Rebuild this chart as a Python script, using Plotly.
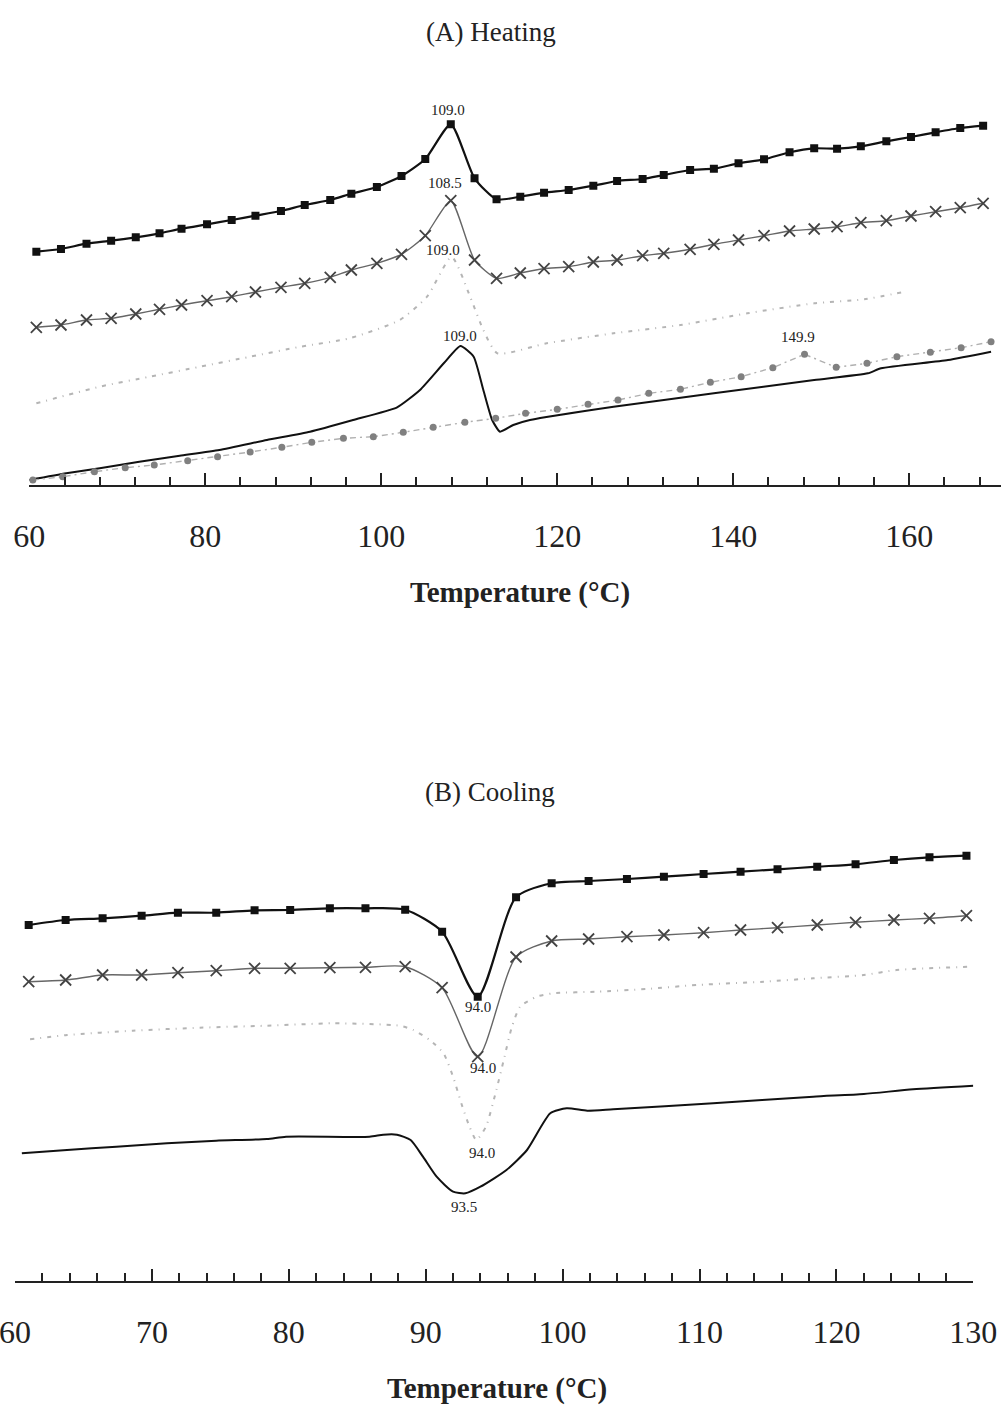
import plotly.graph_objects as go

# ---------------- (A) Heating ----------------
heat_T_marked = [60.8, 63.6, 66.5, 69.3, 72.1, 74.8, 77.3, 80.2, 83.0, 85.7, 88.6, 91.3, 94.2, 96.6,
                 99.5, 102.3, 105.0, 107.9, 110.6, 113.1, 115.8, 118.5, 121.3, 124.1, 126.8, 129.7,
                 132.1, 135.1, 137.8, 140.6, 143.5, 146.4, 149.2, 151.8, 154.5, 157.4, 160.2, 163.0,
                 165.8, 168.4]
heat_sq = [231.3, 234, 239.3, 242.3, 245.7, 249.7, 254.3, 258.7, 263, 267.3, 272, 278, 283, 289.3,
           296, 307, 324, 358.7, 304.7, 283.7, 286.3, 290.3, 293, 297.3, 302, 304, 308, 313, 314.3,
           319.7, 323.7, 330.7, 334.7, 334.3, 336.7, 341.7, 346, 350.7, 355, 357.3]
heat_x = [155.7, 158, 163, 164.7, 169, 173.7, 178, 182.3, 186.3, 191, 195.7, 199.7, 205.7, 213,
          219.7, 228.7, 247.3, 282.3, 223, 204.7, 210, 214.3, 216.3, 221, 223, 227.3, 229.7, 233.7,
          238.7, 243, 247.3, 252, 254, 256.3, 260.3, 262.3, 267, 271.3, 275.3, 279.7]

heat_dot_T = [60.8, 68.0, 73.7, 79.4, 85.1, 90.8, 96.4, 102.1, 105.2, 108.0, 110.1, 111.6, 113.2,
              118.8, 126.4, 134.0, 141.6, 149.2, 154.9, 159.5]
heat_dot = [79.7, 96.3, 106.3, 116.3, 126.3, 136.3, 144.7, 163, 186.3, 226, 186.3, 153, 129.7,
            139.7, 149.7, 158, 169.7, 179.7, 183.7, 191.3]

heat_solid_T = [60.0, 64.2, 68.0, 72.5, 77.1, 81.6, 87.0, 91.9, 96.8, 101.8, 104.4, 107.1, 109.0,
                110.5, 111.6, 112.6, 113.5, 115.0, 116.9, 126.4, 137.8, 149.2, 155.3, 156.8, 164.4,
                169.3]
heat_solid = [3, 9.7, 14.7, 21.3, 27.3, 33, 43, 51.3, 63, 75.7, 93, 119.7, 137, 126.3, 93, 63, 51.3,
              58, 63, 76.3, 89.7, 103, 109.7, 114.7, 123, 131.3]

heat_circ_T = [60.4, 63.8, 67.4, 70.9, 74.2, 78.0, 81.4, 85.1, 88.7, 92.1, 95.7, 99.1, 102.5, 105.9,
               109.5, 113.0, 116.4, 120.0, 123.5, 126.9, 130.4, 134.0, 137.4, 140.9, 144.5, 148.1,
               151.7, 155.2, 158.6, 162.4, 165.9, 169.3]
heat_circ = [3, 6.3, 11.3, 15.3, 18, 22.3, 26.3, 31, 35.7, 40.7, 44.7, 46.3, 50.7, 55.7, 60.7, 64.7,
             69.7, 73.7, 78.7, 83, 89.7, 93.7, 100.7, 106.3, 115.3, 128.7, 115.7, 119.7, 126.3,
             130.7, 135.3, 141.3]

heat_labels = ["109.0", "108.5", "109.0", "109.0", "149.9"]
heat_label_T = [107.6, 107.2, 107.0, 109.0, 147.4]
heat_label_y = [373, 300, 233, 147, 146]

# ---------------- (B) Cooling ----------------
cool_T_marked = [61.0, 63.7, 66.4, 69.25, 71.9, 74.7, 77.5, 80.1, 83.0, 85.6, 88.5, 91.2, 93.8,
                 96.6, 99.2, 101.9, 104.7, 107.4, 110.3, 113.0, 115.7, 118.6, 121.4, 124.2, 126.8,
                 129.5]
cool_sq = [356, 361, 362.7, 365.3, 368.3, 368.3, 370.7, 371, 372.7, 372.7, 371.3, 349.3, 284.3,
           383.7, 397.7, 400, 402, 404.3, 407, 409.3, 411.7, 414.3, 416.7, 421, 423.7, 425.3]
cool_x = [299.3, 301, 306, 306, 308.3, 310.3, 312.7, 312.7, 313.3, 313.7, 314.3, 293.3, 224.3,
          324, 340, 342, 344.3, 346, 348.3, 351, 353.3, 356, 358.7, 361, 362.7, 365.3]

cool_dot_T = [61.1, 63.8, 68.6, 73.5, 78.4, 83.3, 88.1, 89.1, 90.3, 91.3, 92.0, 92.6, 93.2, 93.7,
              94.4, 95.1, 95.7, 96.3, 96.9, 98.1, 99.3, 102.5, 106.1, 109.8, 114.7, 118.3, 122.0,
              124.4, 129.8]
cool_dot = [241.7, 246, 250.3, 253.3, 255.3, 257.7, 255.3, 251, 241, 227.7, 204.3, 177.7, 154.3,
            141, 154.3, 187.7, 221, 254.3, 274.3, 284.3, 287.7, 289.3, 292, 296, 299.3, 302.7,
            306, 311, 314.3]

cool_solid_T = [60.5, 63.8, 67.4, 71.1, 74.7, 78.4, 79.8, 85.9, 86.9, 87.9, 88.9, 89.8, 90.8, 92.0,
                92.9, 94.0, 95.9, 97.4, 99.1, 100.3, 101.8, 103.7, 111.0, 118.3, 122.0, 125.6, 130.0]
cool_solid = [127.7, 131, 134.3, 137.7, 140.3, 142, 144.3, 144.3, 146.3, 146.3, 141, 124.3, 104.3,
              89.3, 87.7, 94.3, 111, 131, 167.7, 172.7, 170.3, 171.7, 177.7, 184.3, 187, 191.7,
              195.3]

cool_labels = ["94.0", "94.0", "94.0", "93.5"]
cool_label_T = [93.8, 94.2, 94.1, 92.8]
cool_label_y = [274, 213, 128, 74]

SERIF = "Liberation Serif"
fig = go.Figure()

# heating traces
fig.add_trace(go.Scatter(x=heat_T_marked, y=heat_sq, mode="lines+markers",
                         line=dict(color="#111111", width=2.2, shape="spline", smoothing=0.6),
                         marker=dict(symbol="square", size=8, color="#111111"),
                         xaxis="x", yaxis="y"))
fig.add_trace(go.Scatter(x=heat_T_marked, y=heat_x, mode="lines+markers",
                         line=dict(color="#666666", width=1.4, shape="spline", smoothing=0.6),
                         marker=dict(symbol="x-thin-open", size=11, color="#444444",
                                     line=dict(width=1.8, color="#444444")),
                         xaxis="x", yaxis="y"))
fig.add_trace(go.Scatter(x=heat_dot_T, y=heat_dot, mode="lines",
                         line=dict(color="#b5b5b5", width=2, dash="4px,6px,1px,6px",
                                   shape="spline", smoothing=0.6),
                         xaxis="x", yaxis="y"))
fig.add_trace(go.Scatter(x=heat_solid_T, y=heat_solid, mode="lines",
                         line=dict(color="#111111", width=2, shape="spline", smoothing=0.5),
                         xaxis="x", yaxis="y"))
fig.add_trace(go.Scatter(x=heat_circ_T, y=heat_circ, mode="lines+markers",
                         line=dict(color="#b0b0b0", width=1.4, dash="6px,4px,2px,4px"),
                         marker=dict(symbol="circle", size=7, color="#808080"),
                         xaxis="x", yaxis="y"))

# cooling traces
fig.add_trace(go.Scatter(x=cool_T_marked, y=cool_sq, mode="lines+markers",
                         line=dict(color="#111111", width=2.2, shape="spline", smoothing=0.7),
                         marker=dict(symbol="square", size=8, color="#111111"),
                         xaxis="x2", yaxis="y2"))
fig.add_trace(go.Scatter(x=cool_T_marked, y=cool_x, mode="lines+markers",
                         line=dict(color="#666666", width=1.4, shape="spline", smoothing=0.7),
                         marker=dict(symbol="x-thin-open", size=11, color="#444444",
                                     line=dict(width=1.8, color="#444444")),
                         xaxis="x2", yaxis="y2"))
fig.add_trace(go.Scatter(x=cool_dot_T, y=cool_dot, mode="lines",
                         line=dict(color="#b5b5b5", width=2, dash="4px,6px,1px,6px",
                                   shape="spline", smoothing=0.6),
                         xaxis="x2", yaxis="y2"))
fig.add_trace(go.Scatter(x=cool_solid_T, y=cool_solid, mode="lines",
                         line=dict(color="#111111", width=2, shape="spline", smoothing=0.6),
                         xaxis="x2", yaxis="y2"))

H = 1408.0
W = 1001.0

def ydom(bottom_px, top_px):
    return [1 - bottom_px / H, 1 - top_px / H]

axis_common = dict(showgrid=False, zeroline=False, showline=True, linecolor="#222222",
                   linewidth=2, ticks="inside", tickcolor="#222222", tickwidth=1.5,
                   ticklen=12, tickfont=dict(family=SERIF, size=32, color="#222222"),
                   automargin=False, ticklabelstandoff=22, ticklabeloverflow="allow")

fig.update_layout(
    width=1001, height=1408,
    margin=dict(l=0, r=0, t=0, b=0),
    paper_bgcolor="white", plot_bgcolor="white",
    showlegend=False,
    xaxis=dict(**axis_common, domain=[29.3 / W, 1.0], range=[60, 170.43],
               tick0=60, dtick=20, anchor="y",
               minor=dict(ticks="inside", ticklen=8, tickwidth=1.5, tickcolor="#222222",
                          dtick=4, tick0=60, showgrid=False)),
    yaxis=dict(domain=ydom(485, 85), range=[-2, 398], visible=False, anchor="x"),
    xaxis2=dict(**axis_common, domain=[15 / W, 973.3 / W], range=[60, 130],
                tick0=60, dtick=10, anchor="y2",
                minor=dict(ticks="inside", ticklen=8, tickwidth=1.5, tickcolor="#222222",
                           dtick=2, tick0=60, showgrid=False)),
    yaxis2=dict(domain=ydom(1281, 831), range=[0, 450], visible=False, anchor="x2"),
)

anns = []
for t, yv, s in zip(heat_label_T, heat_label_y, heat_labels):
    anns.append(dict(x=t, y=yv, xref="x", yref="y", text=s, showarrow=False,
                     xanchor="center", yanchor="middle",
                     font=dict(family=SERIF, size=15, color="#222222")))
for t, yv, s in zip(cool_label_T, cool_label_y, cool_labels):
    anns.append(dict(x=t, y=yv, xref="x2", yref="y2", text=s, showarrow=False,
                     xanchor="center", yanchor="middle",
                     font=dict(family=SERIF, size=15, color="#222222")))

anns += [
    dict(x=491 / W, y=1 - 32 / H, xref="paper", yref="paper", text="(A) Heating",
         xanchor="center", yanchor="middle",
         showarrow=False, font=dict(family=SERIF, size=27, color="#222222")),
    dict(x=490 / W, y=1 - 792 / H, xref="paper", yref="paper", text="(B) Cooling",
         xanchor="center", yanchor="middle",
         showarrow=False, font=dict(family=SERIF, size=27, color="#222222")),
    dict(x=520 / W, y=1 - 592 / H, xref="paper", yref="paper",
         xanchor="center", yanchor="middle",
         text="<b>Temperature (°C)</b>", showarrow=False,
         font=dict(family=SERIF, size=29, color="#222222")),
    dict(x=497 / W, y=1 - 1388 / H, xref="paper", yref="paper",
         xanchor="center", yanchor="middle",
         text="<b>Temperature (°C)</b>", showarrow=False,
         font=dict(family=SERIF, size=29, color="#222222")),
]
fig.update_layout(annotations=anns)

fig.write_html("out.html")
